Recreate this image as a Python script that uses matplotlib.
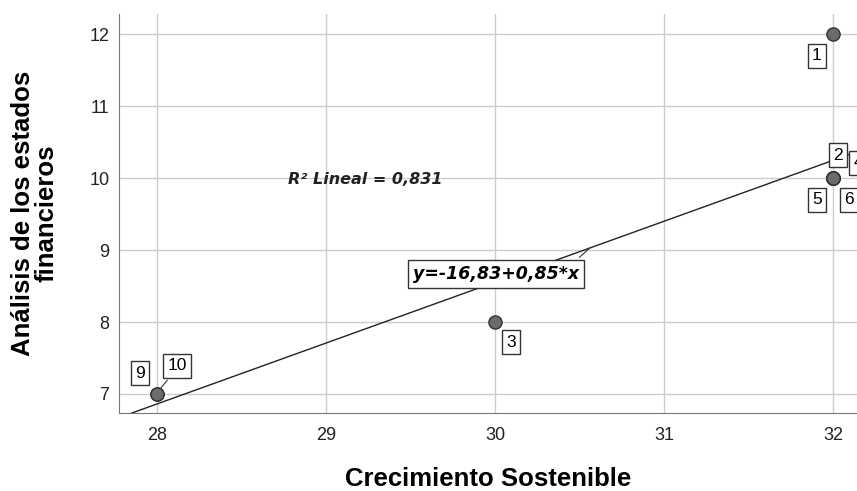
import numpy as np
import matplotlib.pyplot as plt

plt.rcParams['font.family'] = ['Liberation Sans', 'DejaVu Sans']

# Casos: crecimiento sostenible vs. análisis de los estados financieros
casos = ['1', '2', '3', '4', '5', '6', '7', '8', '9', '10']
crecimiento = [32, 32, 30, 32, 32, 32, 32, 32, 28, 28]
analisis = [12, 10, 8, 10, 10, 10, 10, 10, 7, 7]

# posición de la etiqueta de cada caso (desplazamiento en unidades de datos)
etiquetas = {
    '1': (-0.095, -0.30),
    '2': (0.03, 0.32),
    '4': (0.15, 0.21),
    '5': (-0.095, -0.30),
    '6': (0.095, -0.30),
    '3': (0.095, -0.28),
    '9': (-0.10, 0.29),
    '10': (0.118, 0.39),
}

x = np.array(crecimiento, dtype=float)
y = np.array(analisis, dtype=float)
pend, inter = np.polyfit(x, y, 1)
r2 = np.corrcoef(x, y)[0, 1] ** 2

fig = plt.figure(figsize=(8.57, 4.91), dpi=100)
ax = fig.add_axes([0.1389, 0.1589, 0.8611, 0.8126])

xmin, xmax = 27.775, 32.142
ymin, ymax = 6.736, 12.28
ax.set_xlim(xmin, xmax)
ax.set_ylim(ymin, ymax)

ax.set_xticks([28, 29, 30, 31, 32])
ax.set_yticks([7, 8, 9, 10, 11, 12])
ax.grid(True, color='#cccccc', linewidth=1)
ax.set_axisbelow(True)
ax.tick_params(length=0, labelsize=13, colors='#222222')
ax.tick_params(axis='x', pad=10)
ax.tick_params(axis='y', pad=7)

for s in ['top', 'right']:
    ax.spines[s].set_visible(False)
for s in ['left', 'bottom']:
    ax.spines[s].set_color('#777777')

# recta de regresión
xs = np.array([xmin, xmax])
ax.plot(xs, inter + pend * xs, color='#222222', linewidth=1, zorder=2)

ax.scatter(x, y, s=90, color='#6b6b6b', edgecolor='#333333', linewidth=1, zorder=4)

caja = dict(boxstyle='square,pad=0.25', facecolor='white', edgecolor='#333333', linewidth=1)
for i, c in enumerate(casos):
    if c not in etiquetas:
        continue
    dx, dy = etiquetas[c]
    ax.text(x[i] + dx, y[i] + dy, c, ha='center', va='center', fontsize=12.5,
            bbox=caja, zorder=5, clip_on=True)
    if c == '10':
        ax.plot([x[i] + 0.015, x[i] + 0.06], [y[i] + 0.06, y[i] + 0.19],
                color='#333333', linewidth=0.8, zorder=3)

signo = '+' if pend >= 0 else '-'
ecuacion = f'y={inter:.2f}{signo}{abs(pend):.2f}*x'.replace('.', ',')
ax.text(30.005, 8.67, ecuacion, ha='center', va='center', fontsize=12.5,
        family='DejaVu Sans', fontweight='bold', fontstyle='italic',
        bbox=dict(boxstyle='square,pad=0.3', facecolor='white',
                  edgecolor='#333333', linewidth=1), zorder=5)
xl = np.array([30.50, 30.56])
ax.plot(xl, [8.90, inter + pend * 30.56], color='#333333', linewidth=0.8, zorder=3)

ax.text(28.775, 9.98, f'R² Lineal = {r2:.3f}'.replace('.', ','),
        ha='left', va='center', fontsize=11.5, family='DejaVu Sans',
        fontweight='bold', fontstyle='italic', color='#222222', zorder=5)

ax.set_xlabel('Crecimiento Sostenible', fontsize=18.5, fontweight='bold', va='center')
ax.xaxis.set_label_coords(0.5, -0.165)
ax.set_ylabel('Análisis de los estados\nfinancieros', fontsize=18.5,
              fontweight='bold', va='center', linespacing=0.95)
ax.yaxis.set_label_coords(-0.114, 0.5)

fig.savefig('out.png', dpi=100)
